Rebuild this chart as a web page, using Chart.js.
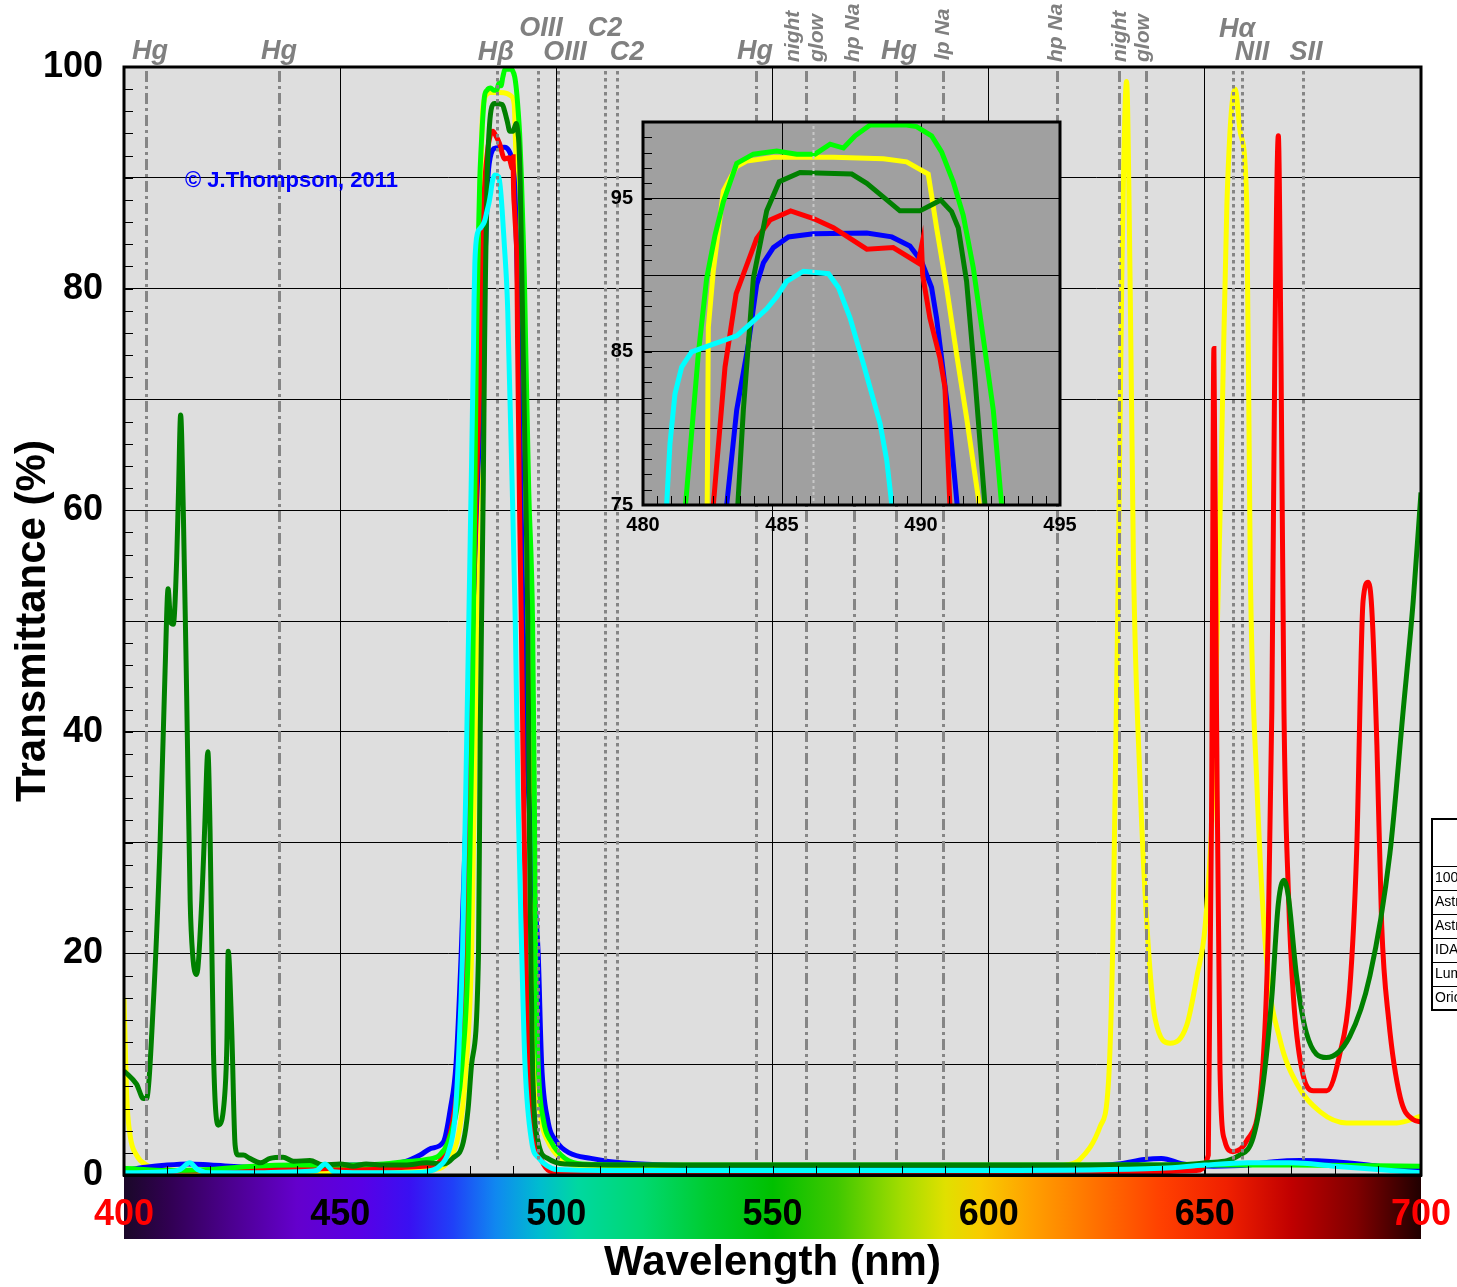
<!DOCTYPE html>
<html><head><meta charset="utf-8">
<script src="https://cdn.jsdelivr.net/npm/chart.js@4.4.1/dist/chart.umd.min.js"></script>
<style>
html,body{margin:0;padding:0;background:#fff;overflow:hidden;}
#wrap{position:relative;width:1457px;height:1287px;}
#main{position:absolute;left:0;top:0;}
#inset{position:absolute;left:583px;top:100px;}
</style></head><body>
<div id="wrap"><canvas id="main" width="1457" height="1287"></canvas><canvas id="inset" width="500" height="450"></canvas></div>
<script>
// ---------------- DATA ----------------
const yellowWl = [400,400.6,401.4,402.9,405.2,410,420,430,440,450,460,468,472,475,477,478.3,479.2,480.4,481.3,481.9,482.31,482.35,482.53,482.89,483.37,483.73,484.69,486.85,488.65,489.48,490.26,490.56,490.92,491.28,491.64,492.1,492.8,493.5,494.1,494.6,495.3,496.5,498.1,501,505,515,530,560,590,610,618,621.1,625.8,627.7,628.8,630.0,630.8,631.9,632.7,633.5,635,636.6,638.5,642,645.8,648.2,650.1,652,654,655.1,657,658.2,659.7,660.5,662,664.3,667.4,671.2,676.7,682.8,694.4,700];
const yellowT = [16,7.3,3.6,1.8,0.9,0.5,0.3,0.3,0.3,0.3,0.3,0.4,0.5,1.2,3,6,10,20,40,60,75,86.6,90.3,95.5,97.1,97.45,97.7,97.7,97.6,97.4,96.6,93.1,89.2,84.85,80.7,75,58,45,30,20,10,5,3,1.5,0.8,0.6,0.5,0.5,0.5,0.6,0.9,1.4,4.4,8.3,22.6,55.1,81.1,98.7,81.1,55.1,35.6,22.6,14.1,11.9,13.5,18,22.6,35.6,68.1,87.6,98,94.1,87.6,55.1,35.6,19.3,12.2,8.3,5.7,4.7,4.7,5.3];

const blueWl = [400,405,410,415,420,430,440,450,460,465,468.5,471,473.9,475.5,476.8,478.0,479.8,481.5,483.01,483.37,483.79,484.09,484.33,484.69,485.23,486.13,488.05,488.95,489.6,490.02,490.38,490.56,490.74,491.04,491.3,491.8,492.3,493,494,495,495.8,496.6,498,500.1,503,508,515,525,540,560,580,600,615,630,636,640,645,652,660,666,672,680,690,700];
const blueT = [0.4,0.7,0.9,1.0,0.9,0.7,0.7,0.9,0.9,1.2,1.8,2.4,3,6,10,20,40,60,75,81.2,85.5,89.4,90.8,91.8,92.5,92.7,92.75,92.5,91.9,90.9,89.2,87.2,84.6,80.1,75,62,50,40,31,25,20,10,5,3,2,1.5,1.1,0.9,0.8,0.7,0.6,0.6,0.8,1.0,1.4,1.5,1.0,0.8,0.9,1.2,1.3,1.2,0.8,0.4];

const redWl = [400,420,440,450,460,465,470,473,475,476.5,477.7,479.2,480.0,480.7,481.5,482.53,482.95,483.35,484.09,484.57,485.31,486.13,486.85,488.05,489.0,489.9,490.02,490.06,490.32,490.68,490.86,491.04,491.5,491.9,492.4,493.0,493.5,494.3,495.1,497,499,510,550,600,640,648,650.8,651.6,652.1,652.7,653.5,654.6,656.5,659.7,663.1,664.7,665.5,666.2,667,667.6,668.3,669.3,670.5,672.4,675.1,678.2,681.2,683.5,685.1,686.6,687.8,688.6,689.8,690.9,692.5,695.2,698.2,700];
const redT = [0.3,0.4,0.5,0.6,0.6,0.7,0.8,1.2,3,6,10,20,40,50,62,75,84,88.8,92.4,93.6,94.2,93.7,93.1,91.7,91.8,90.8,91.9,90.0,87.2,84.6,82.7,75,60,50,35,20,10,5,3,1,0.3,0.2,0.2,0.25,0.3,0.4,1.8,35.6,74.6,42,9.6,3.1,2.1,3.1,8.3,22.5,42,74.6,93.8,74.6,42,25.8,16,9.6,7.6,7.6,10.9,16.7,29,51.8,53.5,51.2,38.8,22.6,14.1,7,5,4.8];

const limeWl = [400,410,420,430,440,450,460,465,470,473,475,477,478.2,479.6,480.5,481.1,481.53,481.99,482.29,482.59,482.89,483.37,483.97,484.81,485.53,486.19,486.73,487.21,487.63,488.17,489.48,489.84,490.38,490.74,491.16,491.52,491.88,492.24,492.6,492.9,493.6,494.5,494.9,495.2,495.8,497,498.8,502,506,520,560,600,640,670,700];
const limeT = [0.6,0.4,0.5,0.8,0.9,0.9,1.0,1.2,1.4,1.8,3,6,10,20,40,60,75,84.85,89.8,92.6,94.8,97.3,97.9,98.1,97.9,97.9,98.55,98.3,99.1,99.8,99.8,99.7,99.1,98.05,96.1,93.9,90.5,85.9,81.2,75,62,50,35,20,10,5,3,1.5,1.0,0.9,0.9,0.9,0.9,0.9,0.8];

const darkGreenWl = [400,402.9,404.5,405.2,406.8,408.3,409.5,410.2,410.8,411.4,412.2,412.6,413.1,413.7,414.5,415.3,415.9,416.8,418.0,418.7,419.4,419.9,420.7,421.8,423.4,423.8,424.1,424.9,425.7,426.4,427.6,429.1,431.5,433.8,436.8,439.2,443,446,450,453,456,460,465,470,474,476,478.5,479.6,480.4,482.0,482.4,482.7,483.1,483.41,483.61,483.97,484.45,484.9,485.65,487.51,488.05,488.65,489.24,489.96,490.44,490.71,491.1,491.34,491.64,491.94,492.3,493.0,493.4,493.8,494.1,494.5,495.8,498,502,520,560,600,640,650.4,658.1,661.2,663.5,665.5,667,668.3,669.3,671.2,673.5,678.1,683.5,688.2,692.8,695.9,698.2,700];
const darkGreenT = [9.4,8.2,6.9,6.9,15.6,29.4,45.5,52.9,49.9,49.7,55.7,61.6,68.6,60.3,43.2,24.8,19.8,18.1,24.8,31.7,38.2,31.2,11,4.5,7.8,11.9,20.2,13.3,2.7,1.8,1.8,1.5,1.1,1.5,1.6,1.25,1.3,0.9,1.0,0.8,1.0,0.9,0.9,1.1,1.0,1.5,3,6,10,20,40,50,62,75,81.2,89.8,94.2,96.1,96.7,96.6,96,95.1,94.2,94.2,94.65,94.9,94.15,93.1,89.6,83.3,75,60,50,30,20,10,3,1.5,1.0,0.9,0.9,0.9,0.9,1.1,1.8,3.4,8.3,16.1,24.5,26.6,25.2,18,12.8,10.6,12.5,18,29,42,51.8,61.6];

const cyanWl = [400,410,413,415.2,417,420,430,440,444.5,446.5,448.5,455,465,470,473,475,476.5,477.3,478.3,479.3,480.2,480.85,480.97,481.15,481.39,481.75,482.53,483.37,483.91,484.45,484.81,485.17,485.77,486.67,487.03,487.45,487.93,488.53,488.77,488.95,489.8,490.5,491.2,492.0,492.75,494.3,496,498,500,520,560,600,640,650,660,670,680,690,700];
const cyanT = [0.2,0.3,0.5,1.1,0.5,0.2,0.2,0.3,0.4,1.0,0.3,0.2,0.2,0.3,0.8,2,5,10,20,40,60,75,79,82.25,84,85,85.5,86.04,86.9,87.8,88.6,89.6,90.26,90.1,89.2,87.2,84.2,80.3,77.9,75,62,50,33,20,10,3,1.5,0.8,0.5,0.4,0.4,0.4,0.6,0.9,1.1,1.1,0.8,0.5,0.2];

// tick labels
const xTickValues = [400,450,500,550,600,650,700];
const yGridValues = [0,10,20,30,40,50,60,70,80,90,100];
const yLabelValues = [0,20,40,60,80,100];
const insetXTicks = [480,485,490,495];
const insetYGrid = [75,80,85,90,95,100];
const insetYLabels = [75,85,95];

// spectral line markers
const lineWl   = [405.0,435.9,486.2,495.8,500.5,511.2,514.0,546.1,557.8,568.9,578.5,589.5,615.9,630.2,636.5,656.4,658.6,672.6];
const lineKind = ['dd','dd','dot','dot','dot','dot','dot','dd','dd','dd','dd','dd','dd','dd','dd','dot','dot','dot'];
const legendNames = ['1000 Oaks LP-2','Astronomik UHC','Astronomik UHC-E','IDAS LPS-P2','Lumicon Deep Sky','Orion SkyGlow'];

// ---------------- RENDER ----------------
const FONT = '"Liberation Sans", Arial, Helvetica, sans-serif';
const toPts = (w, t) => w.map((x, i) => ({x, y: t[i]}));
// first entry drawn on top
const series = [
  {wl: cyanWl, t: cyanT, color: '#00ffff'},
  {wl: darkGreenWl, t: darkGreenT, color: '#008000'},
  {wl: limeWl, t: limeT, color: '#00ff00'},
  {wl: redWl, t: redT, color: '#ff0000'},
  {wl: blueWl, t: blueT, color: '#0000ff'},
  {wl: yellowWl, t: yellowT, color: '#ffff00'}
];
const specStops = [[400,'#1a0828'],[410,'#300050'],[425,'#4c0090'],[440,'#6400cc'],[455,'#5800e6'],[466,'#3a10f2'],[476,'#2040f8'],[486,'#1088f0'],[496,'#00bcd0'],[505,'#00d8a0'],[520,'#00d870'],[535,'#00cc30'],[550,'#00c000'],[565,'#40c800'],[580,'#a4dc00'],[590,'#e0e000'],[598,'#f8cc00'],[610,'#ffa000'],[625,'#ff7000'],[640,'#ff4000'],[655,'#f02000'],[670,'#c00000'],[685,'#800000'],[700,'#200000']];

const mainPlugin = {
  id: 'mainDecor',
  beforeDraw(chart) {
    const {ctx, chartArea: a, scales: {x}} = chart;
    ctx.save();
    ctx.fillStyle = '#fff'; ctx.fillRect(0, 0, chart.width, chart.height);
    ctx.fillStyle = '#dedede'; ctx.fillRect(a.left, a.top, a.right - a.left, a.bottom - a.top);
    const g = ctx.createLinearGradient(x.getPixelForValue(400), 0, x.getPixelForValue(700), 0);
    specStops.forEach(([w, c]) => g.addColorStop((w - 400) / 300, c));
    ctx.fillStyle = g; ctx.fillRect(a.left, a.bottom + 1, a.right - a.left, 63);
    ctx.restore();
  },
  afterDatasetsDraw(chart) {
    const {ctx, chartArea: a, scales: {x}} = chart;
    ctx.save();
    ctx.strokeStyle = '#858585'; ctx.lineWidth = 3;
    lineWl.forEach((w, i) => {
      const px = Math.round(x.getPixelForValue(w)) + 0.5;
      ctx.setLineDash(lineKind[i] === 'dot' ? [3.5, 3.5] : [11, 4, 3, 4]);
      ctx.beginPath(); ctx.moveTo(px, a.top + 4); ctx.lineTo(px, a.bottom - 12); ctx.stroke();
    });
    ctx.restore();
  },
  afterDraw(chart) {
    const {ctx, chartArea: a, scales: {x, y}} = chart;
    ctx.save();
    // minor ticks
    ctx.strokeStyle = '#000'; ctx.lineWidth = 1;
    for (let v = 0; v <= 100; v += 2) {
      const py = Math.round(y.getPixelForValue(v)) + 0.5;
      ctx.beginPath(); ctx.moveTo(a.left, py); ctx.lineTo(a.left + 9, py); ctx.stroke();
    }
    for (let w = 410; w < 700; w += 10) {
      const px = Math.round(x.getPixelForValue(w)) + 0.5;
      ctx.beginPath(); ctx.moveTo(px, a.bottom); ctx.lineTo(px, a.bottom - 9); ctx.stroke();
    }
    // border
    ctx.lineWidth = 3; ctx.strokeStyle = '#000';
    ctx.strokeRect(a.left, a.top, a.right - a.left, a.bottom - a.top);
    ctx.fillStyle = '#000'; ctx.fillRect(a.left - 1, a.bottom - 1, a.right - a.left + 2, 3);
    // axis titles
    ctx.fillStyle = '#000';
    ctx.font = 'bold 42px ' + FONT;
    ctx.textAlign = 'center'; ctx.textBaseline = 'middle';
    ctx.fillText('Wavelength (nm)', (a.left + a.right) / 2, 1263);
    ctx.save(); ctx.translate(33, (a.top + a.bottom) / 2); ctx.rotate(-Math.PI / 2);
    ctx.fillText('Transmittance (%)', 0, 0); ctx.restore();
    // copyright
    ctx.fillStyle = '#0000ff'; ctx.font = 'bold 22px ' + FONT;
    ctx.textAlign = 'left'; ctx.fillText('\u00A9 J.Thompson, 2011', 185, 181);
    // top labels
    ctx.fillStyle = '#808080';
    ctx.font = 'italic bold 27px ' + FONT;
    ctx.textAlign = 'center'; ctx.textBaseline = 'alphabetic';
    const hl = [['Hg',150,59],['Hg',279,59],['H\u03B2',496,60],['OIII',541,36],['OIII',565,60],['C2',605,36],['C2',627,60],['Hg',755,59],['Hg',899,59],['H\u03B1',1237,37],['NII',1252,60],['SII',1306,60]];
    hl.forEach(([t, px, py]) => ctx.fillText(t, px, py));
    ctx.font = 'italic bold 21px ' + FONT;
    ctx.textAlign = 'left'; ctx.textBaseline = 'middle';
    const vl = [['night',793,62],['glow',817,62],['hp Na',853,62],['lp Na',943,60],['hp Na',1056,62],['night',1120,62],['glow',1143,62]];
    vl.forEach(([t, px, py]) => { ctx.save(); ctx.translate(px, py); ctx.rotate(-Math.PI / 2); ctx.fillText(t, 0, 0); ctx.restore(); });
    // legend table (clipped at page edge)
    ctx.fillStyle = '#fff'; ctx.fillRect(1432, 819, 60, 191);
    ctx.strokeStyle = '#000'; ctx.lineWidth = 2;
    ctx.strokeRect(1432, 819, 80, 191);
    ctx.lineWidth = 1;
    const rows = [866, 890, 914, 938, 962, 986];
    rows.forEach(r => { ctx.beginPath(); ctx.moveTo(1432, r + 0.5); ctx.lineTo(1457, r + 0.5); ctx.stroke(); });
    ctx.fillStyle = '#000'; ctx.font = '14px ' + FONT; ctx.textBaseline = 'middle';
    legendNames.forEach((n, i) => ctx.fillText(n, 1435, rows[i] + 12.5));
    ctx.restore();
  }
};

new Chart(document.getElementById('main'), {
  type: 'line',
  data: { datasets: series.map(s => ({ data: toPts(s.wl, s.t), borderColor: s.color, borderWidth: 5, pointRadius: 0, fill: false, cubicInterpolationMode: 'monotone', clip: 0 })) },
  options: {
    responsive: false, animation: false, devicePixelRatio: 1,
    layout: { padding: { top: 67, right: 36, left: 0, bottom: 0 } },
    plugins: { legend: { display: false }, tooltip: { enabled: false } },
    scales: {
      x: { type: 'linear', min: 400, max: 700,
        afterFit: s => { s.height = 112; s.paddingLeft = 0; s.paddingRight = 0; },
        afterBuildTicks: s => { s.ticks = xTickValues.map(v => ({value: v})); },
        ticks: { font: { family: FONT, size: 36, weight: 'bold' }, color: c => (c.tick && (c.tick.value === 400 || c.tick.value === 700)) ? '#ff0000' : '#000000', padding: 18, maxRotation: 0, autoSkip: false },
        grid: { color: '#000', lineWidth: 1, drawTicks: false }, border: { display: false } },
      y: { min: 0, max: 100,
        afterFit: s => { s.width = 124; s.paddingTop = 0; s.paddingBottom = 0; },
        afterBuildTicks: s => { s.ticks = yGridValues.map(v => ({value: v})); },
        ticks: { callback: v => yLabelValues.includes(v) ? String(v) : '', font: { family: FONT, size: 36, weight: 'bold' }, color: '#000', padding: 21, autoSkip: false },
        grid: { color: '#000', lineWidth: 1, drawTicks: false }, border: { display: false } }
    }
  },
  plugins: [mainPlugin]
});

const insetPlugin = {
  id: 'insetDecor',
  beforeDraw(chart) {
    const {ctx, chartArea: a} = chart;
    ctx.save(); ctx.fillStyle = '#a0a0a0';
    ctx.fillRect(a.left, a.top, a.right - a.left, a.bottom - a.top); ctx.restore();
  },
  afterDatasetsDraw(chart) {
    const {ctx, chartArea: a, scales: {x}} = chart;
    ctx.save(); ctx.strokeStyle = '#c8c8c8'; ctx.lineWidth = 2; ctx.setLineDash([3, 3]);
    const px = Math.round(x.getPixelForValue(lineWl[2] - 0.1)) + 0.5;
    ctx.beginPath(); ctx.moveTo(px, a.top + 4); ctx.lineTo(px, a.bottom); ctx.stroke();
    ctx.restore();
  },
  afterDraw(chart) {
    const {ctx, chartArea: a, scales: {x, y}} = chart;
    ctx.save(); ctx.strokeStyle = '#000'; ctx.lineWidth = 1;
    for (let v = 76; v < 100; v += 1) {
      const py = Math.round(y.getPixelForValue(v)) + 0.5;
      ctx.beginPath(); ctx.moveTo(a.left, py); ctx.lineTo(a.left + 9, py); ctx.stroke();
    }
    for (let w = 480.5; w < 495; w += 0.5) {
      const px = Math.round(x.getPixelForValue(w)) + 0.5;
      ctx.beginPath(); ctx.moveTo(px, a.bottom); ctx.lineTo(px, a.bottom - 9); ctx.stroke();
    }
    ctx.lineWidth = 3;
    ctx.strokeRect(a.left, a.top, a.right - a.left, a.bottom - a.top);
    ctx.restore();
  }
};

new Chart(document.getElementById('inset'), {
  type: 'line',
  data: { datasets: series.map(s => ({ data: toPts(s.wl, s.t), borderColor: s.color, borderWidth: 5, pointRadius: 0, fill: false, tension: 0, clip: 0 })) },
  options: {
    responsive: false, animation: false, devicePixelRatio: 1,
    layout: { padding: { top: 22, right: 23, left: 0, bottom: 0 } },
    plugins: { legend: { display: false }, tooltip: { enabled: false } },
    scales: {
      x: { type: 'linear', min: 480, max: 495,
        afterFit: s => { s.height = 45; s.paddingLeft = 0; s.paddingRight = 0; },
        afterBuildTicks: s => { s.ticks = insetXTicks.map(v => ({value: v})); },
        ticks: { font: { family: FONT, size: 20, weight: 'bold' }, color: '#000', padding: 8, maxRotation: 0, autoSkip: false },
        grid: { color: '#000', lineWidth: 1, drawTicks: false }, border: { display: false } },
      y: { min: 75, max: 100,
        afterFit: s => { s.width = 60; s.paddingTop = 0; s.paddingBottom = 0; },
        afterBuildTicks: s => { s.ticks = insetYGrid.map(v => ({value: v})); },
        ticks: { callback: v => insetYLabels.includes(v) ? String(v) : '', font: { family: FONT, size: 20, weight: 'bold' }, color: '#000', padding: 10, autoSkip: false },
        grid: { color: '#000', lineWidth: 1, drawTicks: false }, border: { display: false } }
    }
  },
  plugins: [insetPlugin]
});
</script>
</body></html>
